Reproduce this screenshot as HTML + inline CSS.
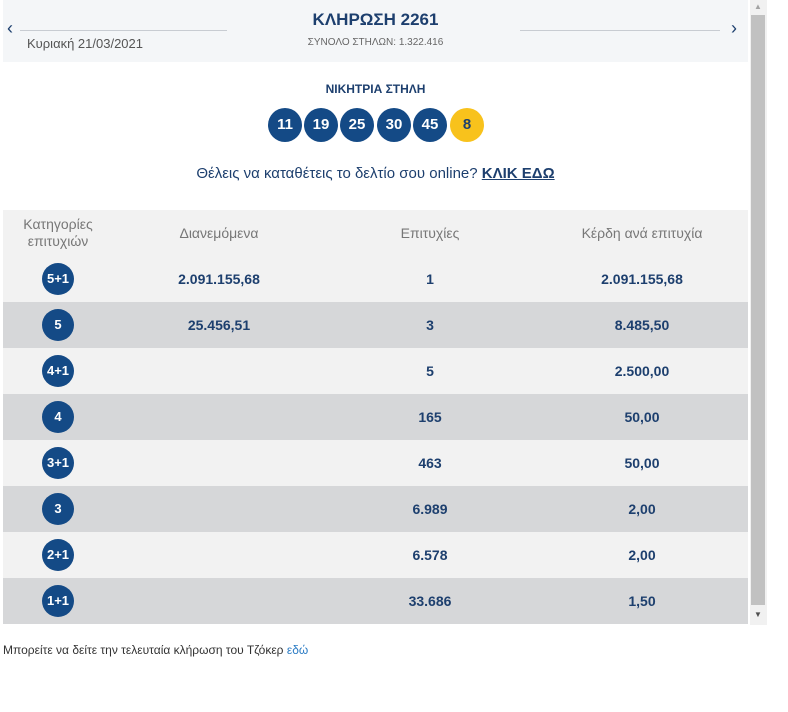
<!DOCTYPE html>
<html><head><meta charset="utf-8"><style>
*{margin:0;padding:0;box-sizing:border-box}
body{width:788px;height:712px;background:#fff;font-family:"Liberation Sans",sans-serif;position:relative;overflow:hidden;color:#1d3f6e}
.abs{position:absolute}
.hdr{left:3px;top:0;width:745px;height:62px;background:#f4f6f8}
.ball{position:absolute;width:34px;height:34px;border-radius:50%;background:#144a86;color:#fff;font-weight:bold;font-size:15px;text-align:center;line-height:34px;top:108px}
.row{position:absolute;left:3px;width:745px;height:46px}
.row div{position:absolute;top:0;line-height:46px;font-weight:bold;font-size:14px;text-align:center}
.cat{left:39px!important;top:7px!important;width:32px;height:32px;border-radius:50%;background:#144a86;color:#fff;line-height:32px!important;font-size:13px!important}
.th{position:absolute;font-size:12px;color:#777;text-align:center}
</style></head><body>
<div class="abs hdr"></div>
<div class="abs" style="left:7px;top:18px;font-size:18px;color:#1d3f6e">‹</div>
<div class="abs" style="left:731px;top:18px;font-size:18px;color:#1d3f6e">›</div>
<div class="abs" style="left:20px;top:30px;width:207px;height:1px;background:#c8ccd2"></div>
<div class="abs" style="left:520px;top:30px;width:200px;height:1px;background:#c8ccd2"></div>
<div class="abs" style="left:27px;top:36px;font-size:13px;color:#555">Κυριακή 21/03/2021</div>
<div class="abs" style="left:0;width:751px;top:10px;text-align:center;font-size:17px;font-weight:bold">ΚΛΗΡΩΣΗ 2261</div>
<div class="abs" style="left:0;width:751px;top:37px;text-align:center;font-size:10px;color:#666">ΣΥΝΟΛΟ ΣΤΗΛΩΝ: 1.322.416</div>
<div class="abs" style="left:0;width:751px;top:82px;text-align:center;font-size:12px;font-weight:bold">ΝΙΚΗΤΡΙΑ ΣΤΗΛΗ</div>
<div class="ball" style="left:268px">11</div>
<div class="ball" style="left:304px">19</div>
<div class="ball" style="left:340px">25</div>
<div class="ball" style="left:377px">30</div>
<div class="ball" style="left:413px">45</div>
<div class="ball" style="left:450px;background:#f8c21c;color:#1d3f6e">8</div>
<div class="abs" style="left:0;width:751px;top:165px;text-align:center;font-size:15px">Θέλεις να καταθέτεις το δελτίο σου online? <a style="font-weight:bold;text-decoration:underline;color:#1d3f6e">ΚΛΙΚ ΕΔΩ</a></div>
<div class="row" style="top:210px;background:#f2f2f2">
<div class="th" style="left:0;width:110px;top:6px;line-height:17px;font-weight:normal">Κατηγορίες<br>επιτυχιών</div>
<div class="th" style="left:116px;width:200px;top:15px;line-height:17px;font-weight:normal">Διανεμόμενα</div>
<div class="th" style="left:327px;width:200px;top:15px;line-height:17px;font-weight:normal">Επιτυχίες</div>
<div class="th" style="left:539px;width:200px;top:15px;line-height:17px;font-weight:normal">Κέρδη ανά επιτυχία</div>
</div>
<div id="rows"></div>
<div class="abs" style="left:750px;top:0;width:17px;height:625px;background:#f1f1f1"></div>
<div class="abs" style="left:751px;top:15px;width:14px;height:590px;background:#c1c1c1"></div>
<div class="abs" style="left:754px;top:2px;font-size:8px;color:#a3a3a3">▲</div>
<div class="abs" style="left:754px;top:610px;font-size:8px;color:#505050">▼</div>
<div class="abs" style="left:3px;top:643px;font-size:12px;color:#333">Μπορείτε να δείτε την τελευταία κλήρωση του Τζόκερ <a style="color:#2a7bc4">εδώ</a></div>
<script>
const cats=["5+1","5","4+1","4","3+1","3","2+1","1+1"];
const distributed=["2.091.155,68","25.456,51","","","","","",""];
const winners=["1","3","5","165","463","6.989","6.578","33.686"];
const prizes=["2.091.155,68","8.485,50","2.500,00","50,00","50,00","2,00","2,00","1,50"];
const c=document.getElementById('rows');
cats.forEach((k,i)=>{
const r=document.createElement('div');
r.className='row';


r.style.top=(256+i*46)+'px';
r.style.background=i%2?'#d6d7d9':'#f2f2f2';
r.innerHTML='<div class="cat">'+k+'</div><div style="left:116px;width:200px">'+distributed[i]+'</div><div style="left:327px;width:200px">'+winners[i]+'</div><div style="left:539px;width:200px">'+prizes[i]+'</div>';
c.appendChild(r);
});
</script>
</body></html>
